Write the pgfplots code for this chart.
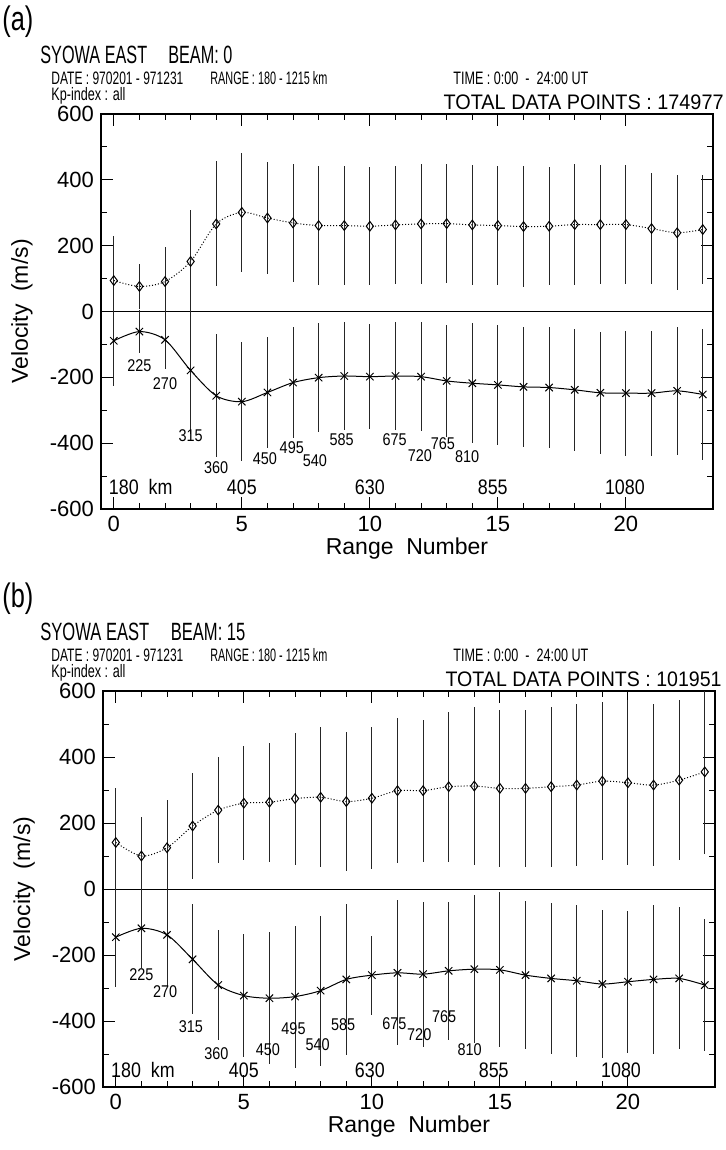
\documentclass[border=0pt]{standalone}
\usepackage{fontspec}
\setmainfont{Liberation Sans}
\usepackage{graphicx}
\usepackage{pgfplots}
\usepackage{pgfplotstable}
\pgfplotsset{compat=1.18}

% x = range number, up/ue = positive mean and spread, lo/le = negative mean and spread
\pgfplotstableread{
x  up  ue   lo   le
0  94  135  -89  136
1  76  68   -61  65
2  91  105  -86  90
3  152 157  -179 192
4  266 190  -256 187
5  301 180  -274 180
6  284 170  -246 170
7  269 180  -216 168
8  261 182  -201 165
9  261 180  -196 165
10 259 180  -198 160
11 263 180  -196 165
12 266 182  -198 165
13 267 180  -211 170
14 263 182  -218 183
15 261 182  -223 183
16 258 185  -229 182
17 259 180  -231 185
18 264 185  -238 185
19 264 180  -247 185
20 264 180  -248 190
21 252 170  -248 190
22 239 175  -241 195
23 249 165  -252 200
}\beamzero

\pgfplotstableread{
x  up  ue   lo   le
0  141 164  -146 150
1  100 119  -119 120
2  125 145  -139 157
3  191 162  -213 167
4  239 160  -291 167
5  260 172  -323 187
6  263 180  -331 200
7  274 200  -326 215
8  278 212  -308 227
9  265 210  -274 230
10 275 215  -261 120
11 298 220  -254 220
12 298 215  -258 220
13 310 227  -248 210
14 312 240  -243 225
15 305 237  -245 235
16 305 237  -261 225
17 310 242  -271 230
18 315 245  -278 230
19 327 240  -288 225
20 322 250  -281 215
21 315 245  -274 225
22 330 243  -271 215
23 355 250  -291 200
}\beamfifteen

\pgfplotsset{
  vplot/.style={
    scale only axis, width=306pt, height=197.5pt,
    xmin=-0.5, xmax=23.4, ymin=-600, ymax=600,
    xtick={0,5,10,15,20}, minor x tick num=4,
    ytick={-600,-400,...,600}, minor y tick num=1,
    tick align=inside, major tick length=6pt, minor tick length=3pt,
    tick style={black, line width=0.5pt},
    axis line style={line width=0.6pt},
    /pgf/number format/assume math mode=true,
    tick label style={font=\fontsize{11}{12}\selectfont},
    label style={font=\fontsize{11.5}{13}\selectfont},
    xlabel={Range\ \ Number}, ylabel={Velocity\ \ (m/s)},
    xlabel style={at={(axis description cs:0.5,-0.099)}, anchor=center},
    ylabel style={at={(axis description cs:-0.129,0.5)}, anchor=center},
    extra y ticks={0}, extra y tick labels={},
    extra y tick style={grid=major, major grid style={black, line width=0.5pt}},
  },
  posline/.style={black, densely dotted, line width=0.5pt, smooth,
    mark=diamond, mark size=2.4pt, mark options={solid},
    error bars/.cd, y dir=both, y explicit, error mark=none,
    error bar style={solid, black!85, line width=0.45pt}},
  negline/.style={black, solid, line width=0.5pt, smooth,
    mark=x, mark size=2.6pt, mark options={solid},
    error bars/.cd, y dir=both, y explicit, error mark=none,
    error bar style={solid, black!85, line width=0.45pt}},
}
\tikzset{
  km/.style={font=\fontsize{8.5}{9}\selectfont, inner sep=0pt},
  kmbig/.style={font=\fontsize{10.5}{11}\selectfont, inner sep=0pt},
}

\newcommand{\hdr}[3]{\resizebox{#1}{\height}{\fontsize{#2}{#2}\selectfont #3}}

\begin{document}
\begin{tikzpicture}
\useasboundingbox (0,0) rectangle (362.5pt,575pt);

% ---------- panel (a) ----------
\node[anchor=west, inner sep=0] at (1pt,564pt) {\hdr{15.5pt}{17}{(a)}};
\node[anchor=west, inner sep=0] at (20pt,547.5pt) {\hdr{96pt}{12.5}{SYOWA EAST\hspace{1.3em}BEAM: 0}};
\node[anchor=west, inner sep=0] at (25.5pt,536pt) {\hdr{66pt}{9}{DATE : 970201 - 971231}};
\node[anchor=west, inner sep=0] at (105pt,536pt) {\hdr{58.5pt}{9}{RANGE : 180 - 1215 km}};
\node[anchor=west, inner sep=0] at (226.5pt,536pt) {\hdr{67.5pt}{9}{TIME : 0:00\ \ -\ \ 24:00 UT}};
\node[anchor=west, inner sep=0] at (25.5pt,527pt) {\hdr{37pt}{9}{Kp-index : all}};
\node[anchor=east, inner sep=0] at (362pt,524pt) {\hdr{140pt}{10.5}{TOTAL DATA POINTS : 174977}};

\begin{axis}[vplot, at={(50.5pt,320.5pt)}, anchor=south west]
  \addplot[posline] table[x=x, y=up, y error=ue] {\beamzero};
  \addplot[negline] table[x=x, y=lo, y error=le] {\beamzero};
  \node[km] at (axis cs:1.0,-165) {\scalebox{0.85}[1]{225}};
  \node[km] at (axis cs:2.0,-219) {\scalebox{0.85}[1]{270}};
  \node[km] at (axis cs:3.0,-378) {\scalebox{0.85}[1]{315}};
  \node[km] at (axis cs:4.0,-474) {\scalebox{0.85}[1]{360}};
  \node[km] at (axis cs:5.9,-447) {\scalebox{0.85}[1]{450}};
  \node[km] at (axis cs:6.95,-414) {\scalebox{0.85}[1]{495}};
  \node[km] at (axis cs:7.85,-453) {\scalebox{0.85}[1]{540}};
  \node[km] at (axis cs:8.9,-390) {\scalebox{0.85}[1]{585}};
  \node[km] at (axis cs:10.97,-390) {\scalebox{0.85}[1]{675}};
  \node[km] at (axis cs:11.95,-438) {\scalebox{0.85}[1]{720}};
  \node[km] at (axis cs:12.85,-402) {\scalebox{0.85}[1]{765}};
  \node[km] at (axis cs:13.8,-441) {\scalebox{0.85}[1]{810}};
  \node[kmbig] at (axis cs:1.05,-533) {\scalebox{0.85}[1]{180\ \ km}};
  \node[kmbig] at (axis cs:5.0,-533) {\scalebox{0.85}[1]{405}};
  \node[kmbig] at (axis cs:10.0,-533) {\scalebox{0.85}[1]{630}};
  \node[kmbig] at (axis cs:14.8,-533) {\scalebox{0.85}[1]{855}};
  \node[kmbig] at (axis cs:19.96,-533) {\scalebox{0.85}[1]{1080}};
\end{axis}

% ---------- panel (b) ----------
\node[anchor=west, inner sep=0] at (1pt,275.5pt) {\hdr{15.5pt}{17}{(b)}};
\node[anchor=west, inner sep=0] at (20pt,259pt) {\hdr{102.5pt}{12.5}{SYOWA EAST\hspace{1.3em}BEAM: 15}};
\node[anchor=west, inner sep=0] at (25.5pt,247.5pt) {\hdr{66pt}{9}{DATE : 970201 - 971231}};
\node[anchor=west, inner sep=0] at (105pt,247.5pt) {\hdr{58.5pt}{9}{RANGE : 180 - 1215 km}};
\node[anchor=west, inner sep=0] at (226.5pt,247.5pt) {\hdr{67.5pt}{9}{TIME : 0:00\ \ -\ \ 24:00 UT}};
\node[anchor=west, inner sep=0] at (25.5pt,238.5pt) {\hdr{37pt}{9}{Kp-index : all}};
\node[anchor=east, inner sep=0] at (361pt,235.5pt) {\hdr{138pt}{10.5}{TOTAL DATA POINTS : 101951}};

\begin{axis}[vplot, at={(51.5pt,31.5pt)}, anchor=south west, height=198pt]
  \addplot[posline] table[x=x, y=up, y error=ue] {\beamfifteen};
  \addplot[negline] table[x=x, y=lo, y error=le] {\beamfifteen};
  \node[km] at (axis cs:1.0,-261) {\scalebox{0.85}[1]{225}};
  \node[km] at (axis cs:1.93,-311) {\scalebox{0.85}[1]{270}};
  \node[km] at (axis cs:2.93,-417) {\scalebox{0.85}[1]{315}};
  \node[km] at (axis cs:3.93,-498) {\scalebox{0.85}[1]{360}};
  \node[km] at (axis cs:5.94,-486) {\scalebox{0.85}[1]{450}};
  \node[km] at (axis cs:6.94,-422) {\scalebox{0.85}[1]{495}};
  \node[km] at (axis cs:7.88,-473) {\scalebox{0.85}[1]{540}};
  \node[km] at (axis cs:8.88,-412) {\scalebox{0.85}[1]{585}};
  \node[km] at (axis cs:10.88,-407) {\scalebox{0.85}[1]{675}};
  \node[km] at (axis cs:11.85,-442) {\scalebox{0.85}[1]{720}};
  \node[km] at (axis cs:12.82,-387) {\scalebox{0.85}[1]{765}};
  \node[km] at (axis cs:13.82,-488) {\scalebox{0.85}[1]{810}};
  \node[kmbig] at (axis cs:1.06,-548) {\scalebox{0.85}[1]{180\ \ km}};
  \node[kmbig] at (axis cs:5.0,-548) {\scalebox{0.85}[1]{405}};
  \node[kmbig] at (axis cs:9.92,-548) {\scalebox{0.85}[1]{630}};
  \node[kmbig] at (axis cs:14.76,-548) {\scalebox{0.85}[1]{855}};
  \node[kmbig] at (axis cs:19.73,-548) {\scalebox{0.85}[1]{1080}};
\end{axis}
\end{tikzpicture}
\end{document}
